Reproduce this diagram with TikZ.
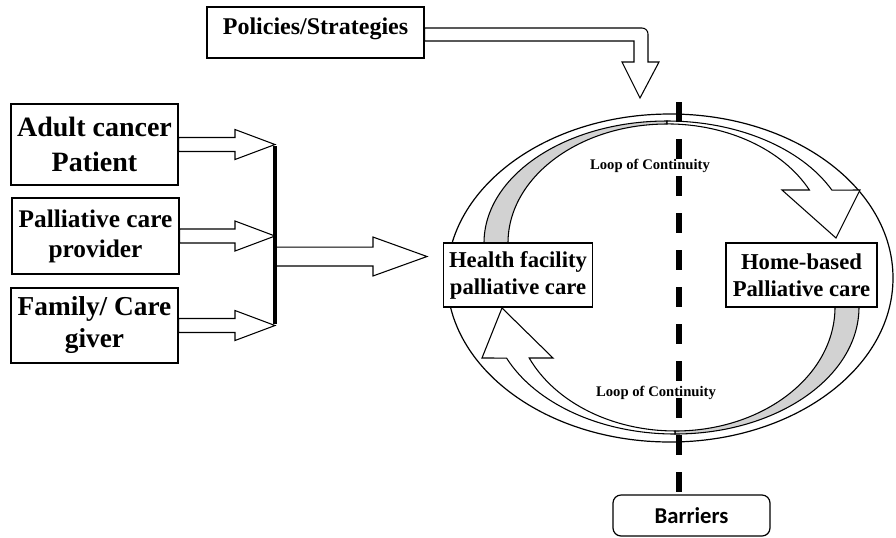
\documentclass[tikz,border=0pt]{standalone}
\usepackage{fontspec}
\setmainfont{Liberation Serif}
\newfontfamily\barfont{Carlito}
\usetikzlibrary{calc}

% horizontal hollow arrow: from, to, shaft half width, head half width, head length
\newcommand{\blockarrow}[5]{%
  \draw [hollow] let \p1=(#1), \p2=(#2) in
    (\x1,\y1+#3) -- (\x2-#5,\y1+#3) -- (\x2-#5,\y1+#4) -- (\x2,\y1)
    -- (\x2-#5,\y1-#4) -- (\x2-#5,\y1-#3) -- (\x1,\y1-#3) -- cycle;}

\begin{document}
\begin{tikzpicture}[
x=0.75pt, y=-0.75pt,
block/.style={rectangle, draw=black, line width=0.9pt, fill=white, align=center,
    inner sep=0pt},
block-side/.style={block, minimum width=125.25pt},
block-care/.style={block, minimum width=112pt, minimum height=48pt,
    font=\bfseries\fontsize{17}{20.25}\selectfont},
loop-label/.style={font=\bfseries\fontsize{11}{13}\selectfont},
hollow/.style={draw=black, line width=0.8pt, fill=white},
band/.style={draw=black, line width=0.8pt, fill=gray!35},
barrier-line/.style={line width=5pt, dash pattern=on 15pt off 12.75pt}
]
\useasboundingbox (0,0) rectangle (896,537);

% left side
\node [block-side, minimum height=60.75pt, font=\bfseries\fontsize{21}{26}\selectfont]
    (adult) at (94.5,144.5) {Adult cancer\\Patient};
\node [block-side, minimum height=57pt, font=\bfseries\fontsize{19}{22.5}\selectfont]
    (provider) at (95.5,236) {Palliative care\\provider};
\node [block-side, minimum height=56.25pt, font=\bfseries\fontsize{20.5}{24}\selectfont]
    (family) at (94.5,325.5) {Family/ Care\\giver};

\coordinate (bartop) at (275,146);
\coordinate (barbot) at (275,324);
\coordinate (hub) at (275,256.5);
\coordinate (care-in) at (427,256.5);

\blockarrow{adult.east}{adult.east -| bartop}{5.25pt}{11.25pt}{30pt}
\blockarrow{provider.east}{provider.east -| bartop}{5.25pt}{11.25pt}{30pt}
\blockarrow{family.east}{family.east -| bartop}{5.25pt}{11.25pt}{30pt}
\blockarrow{hub}{care-in}{7.1pt}{14.6pt}{40.5pt}
\draw [line width=3pt] (bartop) -- (barbot);

% policies
\node [block, minimum width=162.75pt, minimum height=38.25pt, text depth=9pt,
    font=\bfseries\fontsize{18}{21}\selectfont] (policies) at (315.5,32.5) {Policies/Strategies};
\draw [hollow] (policies.east |- 0,28) -- (642,28) arc[start angle=-90, end angle=0, radius=6]
    -- (648,62) -- (659,62) -- (640,98) -- (622,62) -- (634,62) -- (634,41)
    -- (policies.east |- 0,41) -- cycle;

% loop
\draw [line width=0.9pt] (670,278) ellipse [x radius=223, y radius=164];

\draw [band] (484,243) arc[start angle=180, end angle=270, x radius=183, y radius=122]
    -- (667,124) arc[start angle=270, end angle=180, x radius=159, y radius=119] -- cycle;
\draw [hollow] (667,121) arc[start angle=270, end angle=334.3, x radius=183, y radius=122]
    -- (860,190) -- (836,238) -- (782,190) -- (809.4,190)
    arc[start angle=333.6, end angle=270, x radius=159, y radius=119] -- cycle;

\draw [band] (859,307) arc[start angle=0, end angle=90, x radius=184, y radius=127]
    -- (675,431) arc[start angle=90, end angle=0, x radius=160, y radius=124] -- cycle;
\draw [hollow] (675,434) arc[start angle=90, end angle=156.3, x radius=184, y radius=127]
    -- (482,358) -- (502,308) -- (553,358) -- (529.2,358)
    arc[start angle=155.7, end angle=90, x radius=160, y radius=124] -- cycle;

\node [block-care] (health) at (518,275) {Health facility\\palliative care};
\node [block-care, minimum width=113.25pt] (home) at (801.5,275) {Home-based\\Palliative care};

\node [loop-label] (loop-top) at (650,166) {Loop of Continuity};
\node [loop-label] (loop-bottom) at (656,393) {Loop of Continuity};

% barriers
\node [block, rounded corners=6pt, minimum width=117.75pt, minimum height=30.75pt,
    font=\barfont\bfseries\fontsize{17}{20}\selectfont] (barriers) at (691.5,515.5) {Barriers};
\coordinate (divide) at (679,102);
\draw [barrier-line] (divide) -- (divide |- barriers.north);

\end{tikzpicture}
\end{document}
